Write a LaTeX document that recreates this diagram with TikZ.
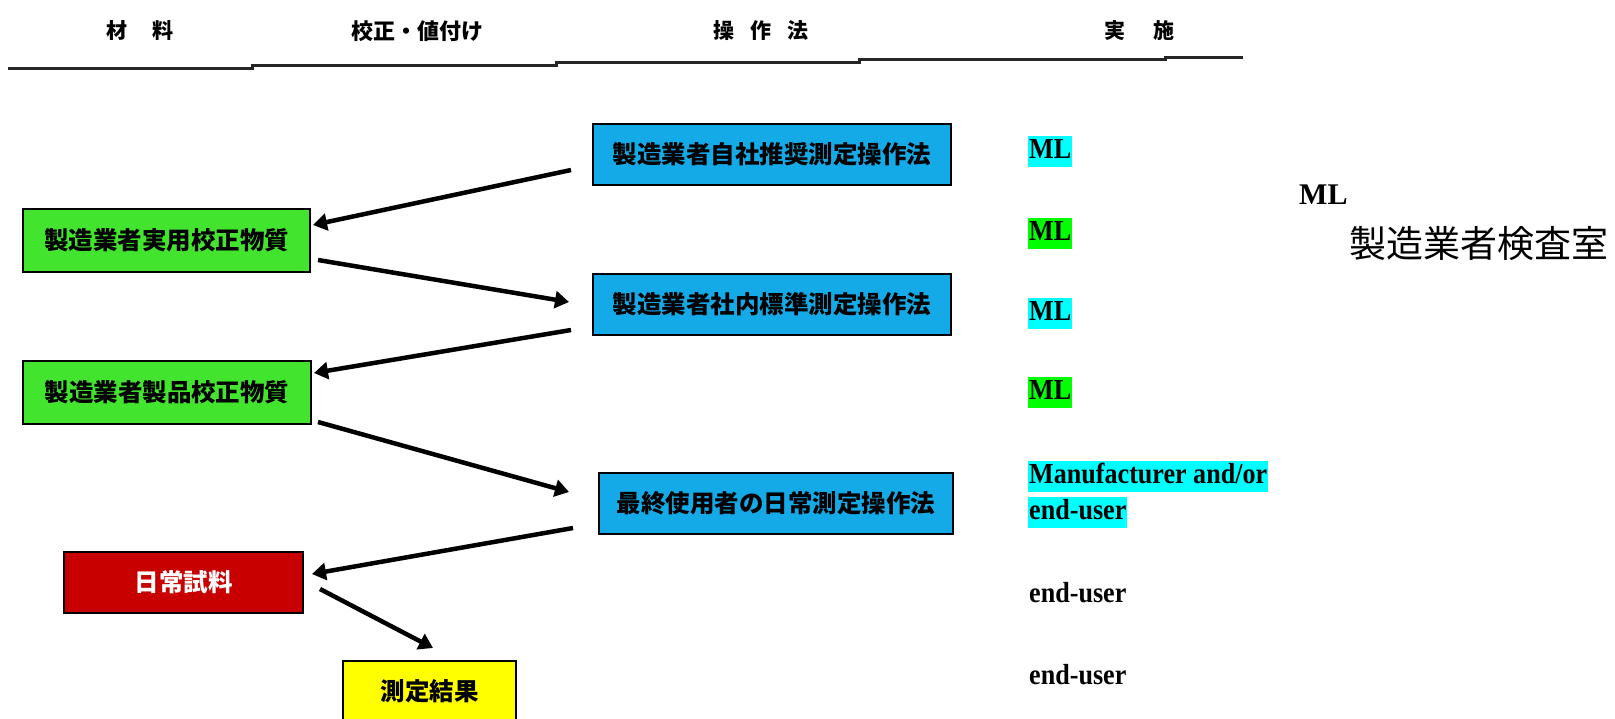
\documentclass[tikz,border=0pt]{standalone}
\usepackage{fontspec}
\setmainfont{Liberation Serif}
\newfontfamily\jp{Noto Sans CJK JP}
\newfontfamily\lab{Liberation Serif}[FakeStretch=0.9]
\usetikzlibrary{arrows.meta,calc}
\definecolor{boxblue}{RGB}{20,170,232}
\definecolor{boxgreen}{RGB}{66,228,46}
\definecolor{boxred}{RGB}{200,0,0}
\definecolor{boxyellow}{RGB}{255,255,0}
\definecolor{hlcyan}{RGB}{0,255,255}
\definecolor{hlgreen}{RGB}{0,255,0}
\tikzset{
  box/.style={draw=black, line width=2pt, inner sep=0pt, font=\jp\bfseries\fontsize{24.5}{27}\selectfont},
  bluebox/.style={box, fill=boxblue, minimum width=358pt, minimum height=61pt},
  greenbox/.style={box, fill=boxgreen, minimum width=287pt, minimum height=63pt},
  redbox/.style={box, fill=boxred, text=white, minimum width=239pt, minimum height=61pt},
  yellowbox/.style={box, fill=boxyellow, minimum width=173pt, minimum height=60pt},
  head/.style={font=\jp\bfseries\fontsize{21}{24}\selectfont, inner sep=0pt},
  lbl/.style={font=\lab\bfseries\fontsize{29}{32}\selectfont, anchor=west, inner xsep=1pt, inner ysep=2pt, text height=21pt, text depth=6pt},
  arr/.style={line width=4.5pt, -{Triangle[length=14pt,width=17pt]}},
}
\begin{document}
\begin{tikzpicture}[x=1pt,y=-1pt]
\clip (0,0) rectangle (1615,718);
\fill[white] (0,0) rectangle (1615,718);
% header
\node[head] (h1) at (140,31) {材\hspace{26pt}料};
\node[head, font=\jp\bfseries\fontsize{22}{24}\selectfont] (h2) at (417,31) {校正・値付け};
\node[head] (h3) at (761,31) {操\hspace{16pt}作\hspace{16pt}法};
\node[head] (h4) at (1139,31) {実\hspace{28pt}施};
\draw[line width=3pt, black!85] (8,68) -- (252,68) -- (252,65) -- (556,65) -- (556,62) -- (859,62) -- (859,59) -- (1165,59) -- (1165,57) -- (1243,57);
% boxes
\node[bluebox] (b1) at (772,154.5) {製造業者自社推奨測定操作法};
\node[bluebox] (b2) at (772,304) {製造業者社内標準測定操作法};
\node[bluebox, minimum width=354pt] (b3) at (776,503.5) {最終使用者の日常測定操作法};
\node[greenbox] (g1) at (166.5,240) {製造業者実用校正物質};
\node[greenbox, minimum width=288pt] (g2) at (167,392) {製造業者製品校正物質};
\node[redbox] (r) at (183.5,582.5) {日常試料};
\node[yellowbox] (y) at (429.5,691) {測定結果};
% arrows
\draw[arr] ($(b1.west)+(-21,15.5)$) -- ($(g1.east)+(2,-15)$);
\draw[arr] ($(g1.east)+(7,20)$) -- ($(b2.west)+(-23,-2)$);
\draw[arr] ($(b2.west)+(-21,26)$) -- ($(g2.east)+(2,-19)$);
\draw[arr] ($(g2.east)+(6,30)$) -- ($(b3.west)+(-29,-11.5)$);
\draw[arr] ($(b3.west)+(-25,24.5)$) -- ($(r.east)+(8,-8.5)$);
\draw[arr] ($(r.east)+(16,6.5)$) -- ($(y.north)+(3.5,-12)$);
% right column
\node[lbl, fill=hlcyan] (l1) at (1028,151) {ML};
\node[lbl, fill=hlgreen] (l2) at (1028,233) {ML};
\node[lbl, fill=hlcyan] (l3) at (1028,313) {ML};
\node[lbl, fill=hlgreen] (l4) at (1028,392) {ML};
\node[lbl, fill=hlcyan] (l5) at (1028,476) {Manufacturer and/or};
\node[lbl, fill=hlcyan] (l6) at (1028,512) {end-user};
\node[lbl] (l7) at (1028,595) {end-user};
\node[lbl] (l8) at (1028,677) {end-user};
% legend
\node[font=\bfseries\fontsize{30}{34}\selectfont, anchor=base west, inner sep=0pt] (ml) at (1299,204) {ML};
\node[font=\jp\fontsize{37}{40}\selectfont, anchor=west, inner sep=0pt] (mlt) at (1349,244) {製造業者検査室};
\end{tikzpicture}
\end{document}
